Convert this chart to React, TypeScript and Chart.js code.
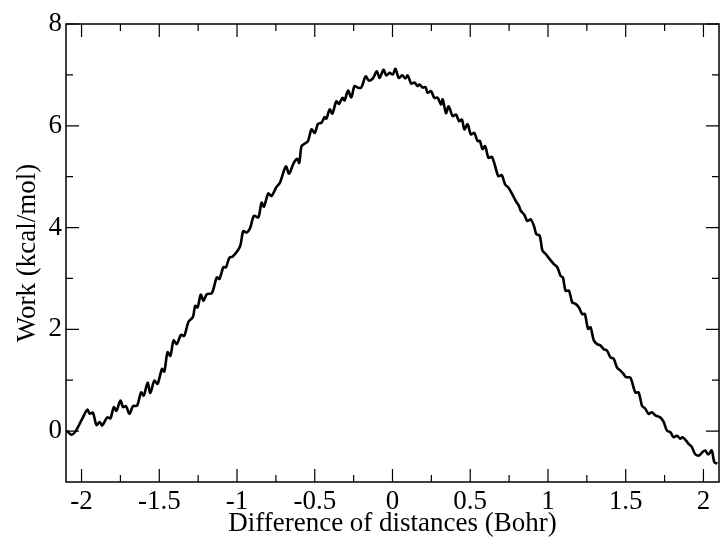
import React, { useEffect, useRef } from "react";
import { Chart, registerables } from "chart.js";

Chart.register(...registerables);

const xValues: number[] = [
  -2.095, -2.066, -2.04, -1.996, -1.963, -1.947, -1.927, -1.904, -1.883, -1.867,
  -1.835, -1.814, -1.793, -1.776, -1.75, -1.733, -1.714, -1.692, -1.669, -1.643,
  -1.617, -1.6, -1.575, -1.558, -1.532, -1.511, -1.483, -1.468, -1.447, -1.429,
  -1.408, -1.387, -1.361, -1.34, -1.312,
  -1.284, -1.269, -1.254, -1.233, -1.216, -1.194, -1.162, -1.13, -1.113, -1.088,
  -1.071, -1.049, -1.028, -0.981, -0.96, -0.938, -0.917, -0.891, -0.863, -0.842,
  -0.827, -0.799, -0.778, -0.746, -0.724, -0.686, -0.665, -0.635, -0.613, -0.6,
  -0.585, -0.564, -0.543, -0.521, -0.5, -0.479, -0.457, -0.436, -0.425, -0.404,
  -0.387, -0.361, -0.344, -0.322, -0.308, -0.286, -0.265, -0.244, -0.222, -0.201,
  -0.173, -0.152, -0.126, -0.101, -0.083, -0.058, -0.04, -0.019, 0.002, 0.019,
  0.04, 0.062, 0.083, 0.098,
  0.12, 0.141, 0.162, 0.173, 0.194, 0.212, 0.226, 0.248, 0.269, 0.29,
  0.312, 0.323, 0.344, 0.361, 0.387, 0.408, 0.429, 0.447, 0.462, 0.483,
  0.504, 0.526, 0.547, 0.562, 0.579, 0.596, 0.617, 0.639, 0.66, 0.681,
  0.703, 0.724, 0.746, 0.771, 0.793, 0.814, 0.825, 0.846, 0.867, 0.889,
  0.91, 0.925, 0.947, 0.964, 0.985,
  1.006, 1.038, 1.06, 1.081, 1.096, 1.113, 1.135, 1.156, 1.177, 1.199,
  1.22, 1.237, 1.258, 1.274, 1.295, 1.316, 1.338, 1.359, 1.38, 1.402,
  1.423, 1.444, 1.466, 1.487, 1.502, 1.53,
  1.562, 1.583, 1.605, 1.626, 1.647, 1.669, 1.69, 1.722, 1.744, 1.765,
  1.787, 1.808, 1.829, 1.851, 1.865, 1.887, 1.904, 1.925, 1.946, 1.972,
  1.994, 2.011, 2.032, 2.053, 2.07, 2.09,
];

const workValues: number[] = [
  0.01, -0.07, -0.01, 0.24, 0.42, 0.34, 0.36, 0.12, 0.18, 0.11,
  0.27, 0.25, 0.47, 0.4, 0.6, 0.47, 0.49, 0.34, 0.49, 0.5,
  0.76, 0.7, 0.95, 0.75, 0.99, 0.93, 1.22, 1.17, 1.55, 1.48,
  1.78, 1.71, 1.89, 1.87, 2.15,
  2.24, 2.46, 2.43, 2.68, 2.56, 2.69, 2.71, 3.02, 2.99, 3.22,
  3.22, 3.41, 3.43, 3.63, 3.93, 3.9, 3.98, 4.23, 4.2, 4.49,
  4.41, 4.67, 4.62, 4.8, 4.88, 5.2, 5.06, 5.27, 5.35, 5.27,
  5.6, 5.65, 5.7, 5.93, 5.86, 6.04, 6.06, 6.17, 6.14, 6.32,
  6.24, 6.48, 6.43, 6.55, 6.5, 6.69, 6.56, 6.78, 6.75, 6.75,
  6.97, 6.89, 6.93, 7.07, 6.94, 7.1, 6.99, 7.04, 7.01, 7.12,
  6.94, 6.99, 6.93, 6.99,
  6.83, 6.85, 6.78, 6.81, 6.75, 6.76, 6.65, 6.68, 6.55, 6.55,
  6.42, 6.52, 6.25, 6.38, 6.19, 6.22, 6.09, 6.12, 5.93, 6.03,
  5.83, 5.86, 5.7, 5.7, 5.54, 5.6, 5.37, 5.39, 5.21, 5.01,
  5.03, 4.85, 4.78, 4.65, 4.52, 4.42, 4.33, 4.26, 4.13, 4.16,
  4.03, 3.87, 3.84, 3.55, 3.48,
  3.4, 3.28, 3.22, 3.05, 3.02, 2.76, 2.76, 2.53, 2.5, 2.43,
  2.3, 2.3, 2.01, 2.04, 1.78, 1.71, 1.68, 1.61, 1.58, 1.45,
  1.42, 1.25, 1.19, 1.12, 1.06, 1.05,
  0.76, 0.76, 0.5, 0.44, 0.34, 0.37, 0.31, 0.27, 0.18, 0.01,
  -0.02, -0.12, -0.09, -0.15, -0.12, -0.18, -0.25, -0.31, -0.45, -0.48,
  -0.41, -0.38, -0.46, -0.38, -0.61, -0.64,
];

const xMajorTicks: number[] = [-2, -1.5, -1, -0.5, 0, 0.5, 1, 1.5, 2];
const xMinorTicks: number[] = [-1.75, -1.25, -0.75, -0.25, 0.25, 0.75, 1.25, 1.75];
const yMajorTicks: number[] = [0, 2, 4, 6, 8];
const yMinorTicks: number[] = [1, 3, 5, 7];

const xTitle = "Difference of distances (Bohr)";
const yTitle = "Work (kcal/mol)";

const FONT = "'Liberation Serif', 'Times New Roman', serif";
const FONT_SIZE = 27;

const framePlugin = {
  id: "graceFrame",
  afterDatasetsDraw(chart: any) {
    const { ctx, chartArea } = chart;
    const { left, right, top, bottom } = chartArea;
    const xs = chart.scales.x;
    const ys = chart.scales.y;
    ctx.save();
    ctx.strokeStyle = "#000";
    ctx.lineWidth = 1.5;
    ctx.strokeRect(left, top, right - left, bottom - top);
    ctx.lineWidth = 1.2;
    const major = 13;
    const minor = 7;
    ctx.beginPath();
    const xTick = (v: number, len: number) => {
      const px = xs.getPixelForValue(v);
      ctx.moveTo(px, bottom);
      ctx.lineTo(px, bottom - len);
      ctx.moveTo(px, top);
      ctx.lineTo(px, top + len);
    };
    const yTick = (v: number, len: number) => {
      const py = ys.getPixelForValue(v);
      ctx.moveTo(left, py);
      ctx.lineTo(left + len, py);
      ctx.moveTo(right, py);
      ctx.lineTo(right - len, py);
    };
    xMajorTicks.forEach((v) => xTick(v, major));
    xMinorTicks.forEach((v) => xTick(v, minor));
    yMajorTicks.forEach((v) => yTick(v, major));
    yMinorTicks.forEach((v) => yTick(v, minor));
    ctx.stroke();
    ctx.restore();
  },
};

export default function App() {
  const canvasRef = useRef<HTMLCanvasElement | null>(null);

  useEffect(() => {
    const canvas = canvasRef.current;
    if (!canvas) return;
    const points = xValues.map((x, i) => ({ x, y: workValues[i] }));
    const chart = new Chart(canvas, {
      type: "line",
      data: {
        datasets: [
          {
            data: points,
            borderColor: "#000",
            borderWidth: 2.6,
            pointRadius: 0,
            tension: 0.3,
            fill: false,
          },
        ],
      },
      options: {
        responsive: false,
        animation: false,
        devicePixelRatio: 1,
        layout: { padding: { left: 0, right: 1, top: 24, bottom: 0 } },
        plugins: {
          legend: { display: false },
          tooltip: { enabled: false },
          title: { display: false },
        },
        scales: {
          x: {
            type: "linear",
            min: -2.1,
            max: 2.1,
            grid: { display: false, drawTicks: false },
            border: { display: false },
            afterBuildTicks: (scale: any) => {
              scale.ticks = xMajorTicks.map((v) => ({ value: v }));
            },
            afterFit: (scale: any) => {
              scale.height = 58;
            },
            ticks: {
              color: "#000",
              padding: 4,
              maxRotation: 0,
              autoSkip: false,
              font: { family: FONT, size: FONT_SIZE },
              callback: (v: any) => String(v),
            },
            title: {
              display: true,
              text: xTitle,
              color: "#000",
              font: { family: FONT, size: FONT_SIZE },
              padding: { top: 0, bottom: 0 },
            },
          },
          y: {
            type: "linear",
            min: -1,
            max: 8,
            grid: { display: false, drawTicks: false },
            border: { display: false },
            afterBuildTicks: (scale: any) => {
              scale.ticks = yMajorTicks.map((v) => ({ value: v }));
            },
            afterFit: (scale: any) => {
              scale.width = 66;
            },
            ticks: {
              color: "#000",
              padding: 4,
              autoSkip: false,
              font: { family: FONT, size: FONT_SIZE },
              callback: (v: any) => String(v),
            },
            title: {
              display: true,
              text: yTitle,
              color: "#000",
              font: { family: FONT, size: FONT_SIZE },
              padding: { top: 12, bottom: 0 },
            },
          },
        },
      },
      plugins: [framePlugin],
    });
    return () => chart.destroy();
  }, []);

  return (
    <div style={{ position: "fixed", left: 0, top: 0, width: 720, height: 540, background: "#fff" }}>
      <canvas ref={canvasRef} width={720} height={540} style={{ display: "block" }} />
    </div>
  );
}
